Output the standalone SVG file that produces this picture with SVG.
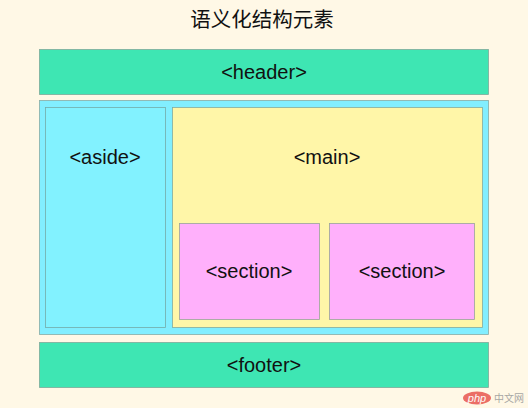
<svg xmlns="http://www.w3.org/2000/svg" width="528" height="408" viewBox="0 0 528 408">
<style>
.box{stroke:#6f8f86;stroke-width:0.8;stroke-opacity:0.7}
.lbl{font-family:"Liberation Sans",Arial,sans-serif;font-size:20px;fill:#111;text-anchor:middle}
.title{font-family:"Noto Sans CJK SC",sans-serif;font-size:20.5px;font-weight:400;fill:#111;text-anchor:middle}
</style>
<rect width="528" height="408" fill="#fff8e6"/>
<text class="title" x="262" y="27">语义化结构元素</text>
<g id="header">
<rect class="box" x="39.5" y="49.5" width="449" height="45" fill="#3ee6b3"/>
<text class="lbl" x="264" y="79">&lt;header&gt;</text>
</g>
<g id="body">
<rect class="box" x="39.5" y="100.5" width="449" height="234" fill="#82eeff"/>
</g>
<g id="aside">
<rect class="box" x="45.5" y="107.5" width="120" height="220" fill="#82f2ff"/>
<text class="lbl" x="105" y="164">&lt;aside&gt;</text>
</g>
<g id="main">
<rect class="box" x="172.5" y="107.5" width="310" height="220" fill="#fff6a8"/>
<text class="lbl" x="327" y="164">&lt;main&gt;</text>
</g>
<g id="section1">
<rect class="box" x="179.5" y="223.5" width="140" height="96" fill="#ffb0fb"/>
<text class="lbl" x="249" y="278">&lt;section&gt;</text>
</g>
<g id="section2">
<rect class="box" x="329.5" y="223.5" width="145" height="96" fill="#ffb0fb"/>
<text class="lbl" x="402" y="278">&lt;section&gt;</text>
</g>
<g id="footer">
<rect class="box" x="39.5" y="342.5" width="449" height="45" fill="#3ee6b3"/>
<text class="lbl" x="264" y="372">&lt;footer&gt;</text>
</g>
<g id="connectors"/>
<g id="watermark" opacity="0.85">
<ellipse cx="477" cy="398" rx="14" ry="6.5" fill="#e8564f"/>
<text x="477" y="402" font-family="Liberation Sans,Arial,sans-serif" font-size="11" font-style="italic" fill="#fff" text-anchor="middle">php</text>
<text x="509" y="402" font-family="Noto Sans CJK SC,sans-serif" font-size="10" fill="#999" text-anchor="middle">中文网</text>
</g>
</svg>
